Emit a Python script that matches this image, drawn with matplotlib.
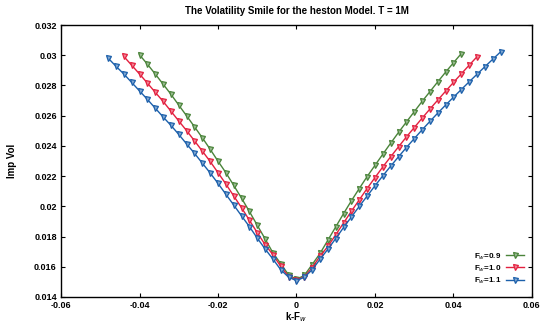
import matplotlib
matplotlib.use("Agg")
import matplotlib.pyplot as plt
from matplotlib.colors import to_rgb

plt.rcParams['font.family'] = ['Liberation Sans', 'DejaVu Sans']

title = "The Volatility Smile for the heston Model. T = 1M"
labels = ["F$_w$=0.9", "F$_w$=1.0", "F$_w$=1.1"]
colors = ["#4a843a", "#e3203f", "#1c60ab"]

x_09 = [-0.040, -0.038, -0.036, -0.034, -0.032, -0.030, -0.028, -0.026, -0.024, -0.022,
        -0.020, -0.018, -0.016, -0.014, -0.012, -0.010, -0.008, -0.006, -0.004, -0.002,
        0.000, 0.002, 0.004, 0.006, 0.008, 0.010, 0.012, 0.014, 0.016, 0.018, 0.020,
        0.022, 0.024, 0.026, 0.028, 0.030, 0.032, 0.034, 0.036, 0.038, 0.040, 0.042]
vol_09 = [0.03003, 0.02941, 0.02876, 0.02809, 0.02742, 0.02670, 0.02599, 0.02527, 0.02454, 0.02378,
          0.02299, 0.02223, 0.02139, 0.02054, 0.01966, 0.01875, 0.01785, 0.01692, 0.01620, 0.01546,
          0.01517, 0.01543, 0.01615, 0.01688, 0.01776, 0.01864, 0.01952, 0.02037, 0.02118, 0.02197,
          0.02271, 0.02345, 0.02418, 0.02489, 0.02558, 0.02626, 0.02694, 0.02759, 0.02824, 0.02888,
          0.02950, 0.03011]

x_10 = [-0.044, -0.042, -0.040, -0.038, -0.036, -0.034, -0.032, -0.030, -0.028, -0.026,
        -0.024, -0.022, -0.020, -0.018, -0.016, -0.014, -0.012, -0.010, -0.008, -0.006,
        -0.004, -0.002, 0.000, 0.002, 0.004, 0.006, 0.008, 0.010, 0.012, 0.014, 0.016,
        0.018, 0.020, 0.022, 0.024, 0.026, 0.028, 0.030, 0.032, 0.034, 0.036, 0.038,
        0.040, 0.042, 0.044, 0.046]
vol_10 = [0.02992, 0.02934, 0.02876, 0.02816, 0.02755, 0.02695, 0.02630, 0.02565, 0.02501, 0.02434,
          0.02366, 0.02297, 0.02223, 0.02148, 0.02069, 0.01991, 0.01908, 0.01826, 0.01747, 0.01680,
          0.01602, 0.01535, 0.01513, 0.01533, 0.01595, 0.01670, 0.01735, 0.01812, 0.01890, 0.01968,
          0.02043, 0.02118, 0.02190, 0.02261, 0.02328, 0.02394, 0.02459, 0.02521, 0.02583, 0.02644,
          0.02703, 0.02762, 0.02820, 0.02877, 0.02934, 0.02990]

x_11 = [-0.048, -0.046, -0.044, -0.042, -0.040, -0.038, -0.036, -0.034, -0.032, -0.030,
        -0.028, -0.026, -0.024, -0.022, -0.020, -0.018, -0.016, -0.014, -0.012, -0.010,
        -0.008, -0.006, -0.004, -0.002, 0.000, 0.002, 0.004, 0.006, 0.008, 0.010, 0.012,
        0.014, 0.016, 0.018, 0.020, 0.022, 0.024, 0.026, 0.028, 0.030, 0.032, 0.034,
        0.036, 0.038, 0.040, 0.042, 0.044, 0.046, 0.048, 0.050, 0.052]
vol_11 = [0.02981, 0.02927, 0.02876, 0.02820, 0.02764, 0.02708, 0.02650, 0.02592, 0.02536, 0.02476,
          0.02413, 0.02351, 0.02286, 0.02221, 0.02152, 0.02080, 0.02009, 0.01937, 0.01866, 0.01790,
          0.01718, 0.01651, 0.01580, 0.01531, 0.01508, 0.01531, 0.01580, 0.01650, 0.01716, 0.01787,
          0.01860, 0.01930, 0.02000, 0.02068, 0.02136, 0.02202, 0.02266, 0.02328, 0.02389, 0.02448,
          0.02506, 0.02562, 0.02617, 0.02670, 0.02722, 0.02773, 0.02824, 0.02874, 0.02924, 0.02973,
          0.03022]

x_ticks = [-0.06, -0.04, -0.02, 0, 0.02, 0.04, 0.06]
x_tick_labels = ["-0.06", "-0.04", "-0.02", "0", "0.02", "0.04", "0.06"]
y_ticks = [0.014, 0.016, 0.018, 0.02, 0.022, 0.024, 0.026, 0.028, 0.03, 0.032]
y_tick_labels = ["0.014", "0.016", "0.018", "0.02", "0.022", "0.024", "0.026", "0.028", "0.03", "0.032"]


def tint(c, f=0.45):
    r, g, b = to_rgb(c)
    return (r + (1 - r) * f, g + (1 - g) * f, b + (1 - b) * f)


fig = plt.figure(figsize=(5.45, 3.23), dpi=100)
ax = fig.add_axes([0.112, 0.0805, 0.864, 0.842])

for xs, vs, lab, c in zip([x_09, x_10, x_11], [vol_09, vol_10, vol_11], labels, colors):
    ax.plot(xs, vs, color=c, lw=1.0, marker='v', markersize=3.6,
            markerfacecolor=tint(c), markeredgecolor=c, markeredgewidth=0.9,
            label=lab)

ax.set_xlim(-0.06, 0.06)
ax.set_ylim(0.014, 0.032)
ax.set_xticks(x_ticks)
ax.set_xticklabels(x_tick_labels)
ax.set_yticks(y_ticks)
ax.set_yticklabels(y_tick_labels)
ax.tick_params(direction='in', top=True, right=True, length=3, width=0.8,
               labelsize=6.5, pad=3)
for t in ax.get_xticklabels() + ax.get_yticklabels():
    t.set_fontweight('bold')
for s in ax.spines.values():
    s.set_linewidth(1.0)

ax.set_title(title, fontsize=7, fontweight='bold', pad=8)
ax.set_xlabel("k-F$_w$", fontsize=7, fontweight='bold', labelpad=0)
ax.set_ylabel("Imp Vol", fontsize=7, fontweight='bold', labelpad=12)

leg = ax.legend(loc='lower right', bbox_to_anchor=(0.995, 0.02), frameon=False,
                markerfirst=False, fontsize=5.8, handlelength=2.2, labelspacing=0.2,
                handletextpad=0.6, borderpad=0.2)
for t in leg.get_texts():
    t.set_fontweight('bold')

fig.savefig("out.png", dpi=100)
